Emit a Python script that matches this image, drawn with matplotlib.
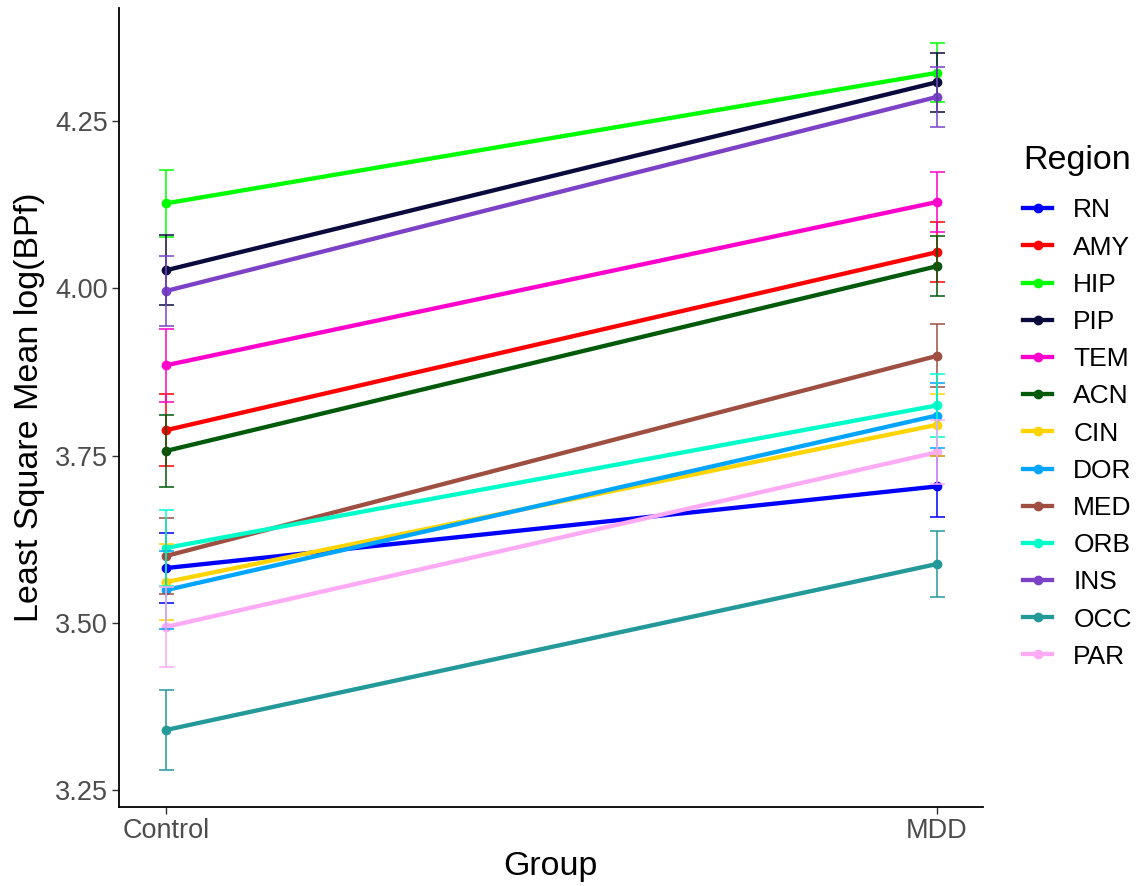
import matplotlib
matplotlib.use("Agg")
import matplotlib.pyplot as plt
from matplotlib.lines import Line2D

plt.rcParams['font.family'] = ['Liberation Sans', 'DejaVu Sans']

## Data
groups = ["Control", "MDD"]
regions = ["RN", "AMY", "HIP", "PIP", "TEM", "ACN", "CIN", "DOR", "MED", "ORB", "INS", "OCC", "PAR"]
control_mean = [3.582, 3.788, 4.127, 4.027, 3.885, 3.757, 3.561, 3.549, 3.600, 3.612, 3.996, 3.340, 3.494]
control_se = [0.052, 0.054, 0.050, 0.052, 0.055, 0.054, 0.057, 0.058, 0.057, 0.057, 0.052, 0.060, 0.060]
mdd_mean = [3.704, 4.054, 4.322, 4.308, 4.129, 4.033, 3.796, 3.810, 3.899, 3.825, 4.286, 3.588, 3.755]
mdd_se = [0.045, 0.045, 0.044, 0.044, 0.045, 0.045, 0.046, 0.048, 0.047, 0.047, 0.045, 0.049, 0.048]
colors = ["#0000FF", "#FF0000", "#00FF00", "#0A0A3C", "#FF00CC", "#005A0A", "#FFD400",
          "#00A5FF", "#9E4F42", "#00FFC8", "#7B42C8", "#23999A", "#FFAAF5"]

fig = plt.figure(figsize=(11.43, 8.86), dpi=100)
ax = fig.add_axes([0.104, 0.0892, 0.756, 0.9018])

xs = [1, 2]
for i, reg in enumerate(regions):
    means = [control_mean[i], mdd_mean[i]]
    ses = [control_se[i], mdd_se[i]]
    ax.plot(xs, means, color=colors[i], lw=3.1, solid_capstyle='butt', zorder=2 + i * 0.01)
    ax.plot(xs, means, 'o', color=colors[i], ms=6, zorder=3 + i * 0.01)
    ax.errorbar(xs, means, yerr=ses, fmt='none', ecolor=colors[i], elinewidth=1.1,
                capsize=5.4, capthick=1.1, zorder=4 + i * 0.01)

ax.set_xlim(0.939, 2.06)
ax.set_ylim(3.225, 4.419)
ax.set_xticks(xs)
ax.set_xticklabels(groups)
ax.set_yticks([3.25, 3.50, 3.75, 4.00, 4.25])
ax.set_yticklabels(["3.25", "3.50", "3.75", "4.00", "4.25"])
ax.tick_params(labelsize=19.5, colors="#333333", labelcolor="#4d4d4d", length=5, width=1, pad=3)
ax.spines['top'].set_visible(False)
ax.spines['right'].set_visible(False)
for s in ['left', 'bottom']:
    ax.spines[s].set_linewidth(1.3)
ax.set_xlabel("Group", fontsize=24.5, labelpad=5)
ax.set_ylabel("Least Square Mean log(BPf)", fontsize=24.5, labelpad=7)

handles = [Line2D([0], [0], color=c, lw=3.1, marker='o', ms=6) for c in colors]
leg = fig.legend(handles, regions, loc='upper left', bbox_to_anchor=(0.879, 0.857),
                 frameon=False, title="Region", fontsize=19, title_fontsize=24.5,
                 handlelength=1.1, handletextpad=0.8, labelspacing=0.50, borderpad=0.2)
leg._legend_box.align = "left"
leg._legend_box.sep = 16

fig.savefig("out.png", dpi=100)
